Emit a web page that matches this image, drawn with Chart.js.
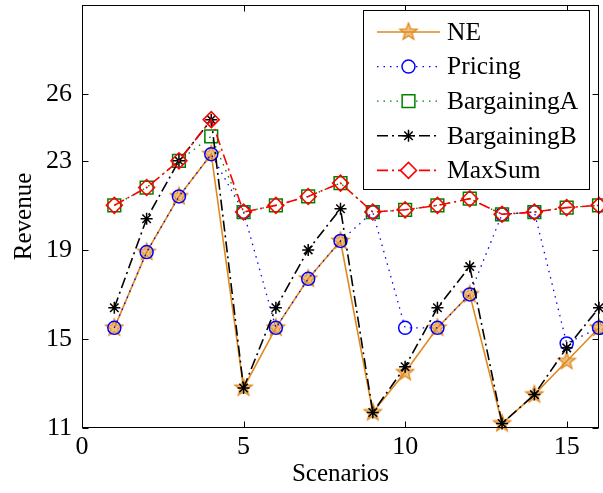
<!DOCTYPE html>
<html>
<head>
<meta charset="utf-8">
<script src="https://cdn.jsdelivr.net/npm/chart.js@4.4.1/dist/chart.umd.min.js"></script>
<style>
  html, body { margin: 0; padding: 0; background: #fff; }
  #wrap { width: 603px; height: 493px; }
</style>
</head>
<body>
<div id="wrap"><canvas id="revenueChart" width="603" height="493"></canvas></div>
<script>
// revenue per scenario for each scheme
const scenarios = [1, 2, 3, 4, 5, 6, 7, 8, 9, 10, 11, 12, 13, 14, 15, 16];
const ne =       [15.5, 18.9, 21.4, 23.3, 12.8, 15.5, 17.7, 19.4, 11.7, 13.5, 15.5, 17.0, 11.2, 12.5, 14.0, 15.5];
const pricing =  [15.5, 18.9, 21.4, 23.3, 20.7, 15.5, 17.7, 19.4, 20.7, 15.5, 15.5, 17.0, 20.6, 20.7, 14.8, 15.5];
const bargA =    [21.0, 21.8, 23.0, 24.1, 20.7, 21.0, 21.4, 22.0, 20.7, 20.8, 21.0, 21.3, 20.6, 20.7, 20.9, 21.0];
const bargB =    [16.4, 20.4, 23.0, 24.85, 12.8, 16.4, 19.0, 20.85, 11.7, 13.75, 16.4, 18.25, 11.2, 12.5, 14.6, 16.4];
const maxSum =   [21.0, 21.8, 23.0, 24.85, 20.7, 21.0, 21.4, 22.0, 20.7, 20.8, 21.0, 21.3, 20.6, 20.7, 20.9, 21.0];

const xTicks = [0, 5, 10, 15];
const yTicks = [11, 15, 19, 23, 26];

const serif = '"Liberation Serif", "Times New Roman", serif';
const ORANGE = '#E08A1E';

// five-pointed star marker (Chart.js has no pentagram)
function makePentagram(r) {
  const size = Math.ceil(r * 2 + 4);
  const c = document.createElement('canvas');
  c.width = size;
  c.height = size;
  const g = c.getContext('2d');
  g.beginPath();
  for (let i = 0; i < 10; i++) {
    const rad = i % 2 ? r * 0.42 : r;
    const a = -Math.PI / 2 + i * Math.PI / 5;
    const px = size / 2 + rad * Math.cos(a);
    const py = size / 2 + rad * Math.sin(a);
    if (i === 0) g.moveTo(px, py); else g.lineTo(px, py);
  }
  g.closePath();
  g.fillStyle = 'rgba(224,138,30,0.55)';
  g.fill();
  g.strokeStyle = ORANGE;
  g.lineWidth = 1.3;
  g.stroke();
  return c;
}
const starImg = makePentagram(9);

const toPoints = vals => vals.map((v, i) => ({ x: scenarios[i], y: v }));

const series = [
  { label: 'NE', data: ne, color: ORANGE, dash: [], width: 1.6, style: starImg, radius: 9, order: 4 },
  { label: 'Pricing', data: pricing, color: '#0000FF', dash: [1.5, 5], width: 1.3, style: 'circle', radius: 6.5, order: 3 },
  { label: 'BargainingA', data: bargA, color: '#008000', dash: [1.5, 5], width: 1.3, style: 'rect', radius: 9, order: 2 },
  { label: 'BargainingB', data: bargB, color: '#000000', dash: [11, 4, 2, 4], width: 1.6, style: 'star', radius: 6, order: 1 },
  { label: 'MaxSum', data: maxSum, color: '#FF0000', dash: [11, 4, 2, 4], width: 1.6, style: 'rectRot', radius: 8, order: 0 }
];

// box around the plot with inward ticks on every side
const frame = {
  id: 'frame',
  afterDatasetsDraw(chart) {
    const { ctx, chartArea: a, scales: { x, y } } = chart;
    const l = Math.round(a.left) + 0.5, r = Math.round(a.right) - 0.5;
    const t = Math.round(a.top) + 0.5, b = Math.round(a.bottom) - 0.5;
    ctx.save();
    ctx.strokeStyle = '#000';
    ctx.lineWidth = 1;
    ctx.setLineDash([]);
    ctx.strokeRect(l, t, r - l, b - t);
    ctx.beginPath();
    xTicks.forEach(v => {
      const px = Math.round(x.getPixelForValue(v)) + 0.5;
      ctx.moveTo(px, b); ctx.lineTo(px, b - 6);
      ctx.moveTo(px, t); ctx.lineTo(px, t + 6);
    });
    yTicks.forEach(v => {
      const py = Math.round(y.getPixelForValue(v)) + 0.5;
      ctx.moveTo(l, py); ctx.lineTo(l + 6, py);
      ctx.moveTo(r, py); ctx.lineTo(r - 6, py);
    });
    ctx.stroke();
    ctx.restore();
  }
};

// legend box in the upper right corner, line sample + marker + name
const legendBox = {
  id: 'legendBox',
  afterDraw(chart) {
    const ctx = chart.ctx;
    const box = { x: 363.5, y: 10.5, w: 226, h: 179 };
    ctx.save();
    ctx.fillStyle = '#fff';
    ctx.fillRect(box.x, box.y, box.w, box.h);
    ctx.strokeStyle = '#000';
    ctx.lineWidth = 1;
    ctx.strokeRect(box.x, box.y, box.w, box.h);
    series.forEach((s, i) => {
      const cy = 32 + i * 34.6;
      ctx.strokeStyle = s.color;
      ctx.lineWidth = s.width;
      ctx.setLineDash(s.dash);
      ctx.beginPath();
      ctx.moveTo(377, cy);
      ctx.lineTo(440, cy);
      ctx.stroke();
      ctx.setLineDash([]);
      ctx.fillStyle = '#fff';
      ctx.lineWidth = 1.5;
      Chart.helpers.drawPoint(ctx, { pointStyle: s.style, radius: s.radius, borderWidth: 1.5, rotation: 0 }, 408.5, cy);
      ctx.fillStyle = '#000';
      ctx.font = '25.5px ' + serif;
      ctx.textBaseline = 'middle';
      ctx.textAlign = 'left';
      ctx.fillText(s.label, 447, cy + 1);
    });
    ctx.restore();
  }
};

const ctx = document.getElementById('revenueChart').getContext('2d');
new Chart(ctx, {
  type: 'line',
  data: {
    datasets: series.map(s => ({
      label: s.label,
      data: toPoints(s.data),
      borderColor: s.color,
      borderWidth: s.width,
      borderDash: s.dash,
      pointStyle: s.style,
      pointRadius: s.radius,
      pointBorderColor: s.color,
      pointBackgroundColor: 'rgba(0,0,0,0)',
      pointBorderWidth: 1.5,
      tension: 0,
      fill: false,
      clip: false,
      order: s.order
    }))
  },
  options: {
    responsive: false,
    devicePixelRatio: 1,
    animation: false,
    layout: { autoPadding: false, padding: { top: 5, right: 4, left: 0, bottom: 0 } },
    plugins: {
      legend: { display: false },
      tooltip: { enabled: false }
    },
    scales: {
      x: {
        type: 'linear',
        min: 0,
        max: 16,
        afterBuildTicks: s => { s.ticks = xTicks.map(v => ({ value: v })); },
        afterFit: s => { s.height = 65; s.paddingLeft = 0; s.paddingRight = 0; },
        grid: { display: false, drawTicks: false },
        border: { display: false },
        ticks: { color: '#000', font: { family: serif, size: 26, lineHeight: 1 }, padding: 6, maxRotation: 0, autoSkip: false },
        title: { display: true, text: 'Scenarios', color: '#000', font: { family: serif, size: 25, lineHeight: 1 }, padding: 6 }
      },
      y: {
        min: 11,
        max: 30,
        afterBuildTicks: s => { s.ticks = yTicks.map(v => ({ value: v })); },
        afterFit: s => { s.width = 82; s.paddingTop = 0; s.paddingBottom = 0; },
        grid: { display: false, drawTicks: false },
        border: { display: false },
        ticks: { color: '#000', font: { family: serif, size: 26, lineHeight: 1 }, padding: 10, autoSkip: false },
        title: { display: true, text: 'Revenue', color: '#000', font: { family: serif, size: 25, lineHeight: 1 }, padding: 12 }
      }
    }
  },
  plugins: [frame, legendBox]
});
</script>
</body>
</html>
